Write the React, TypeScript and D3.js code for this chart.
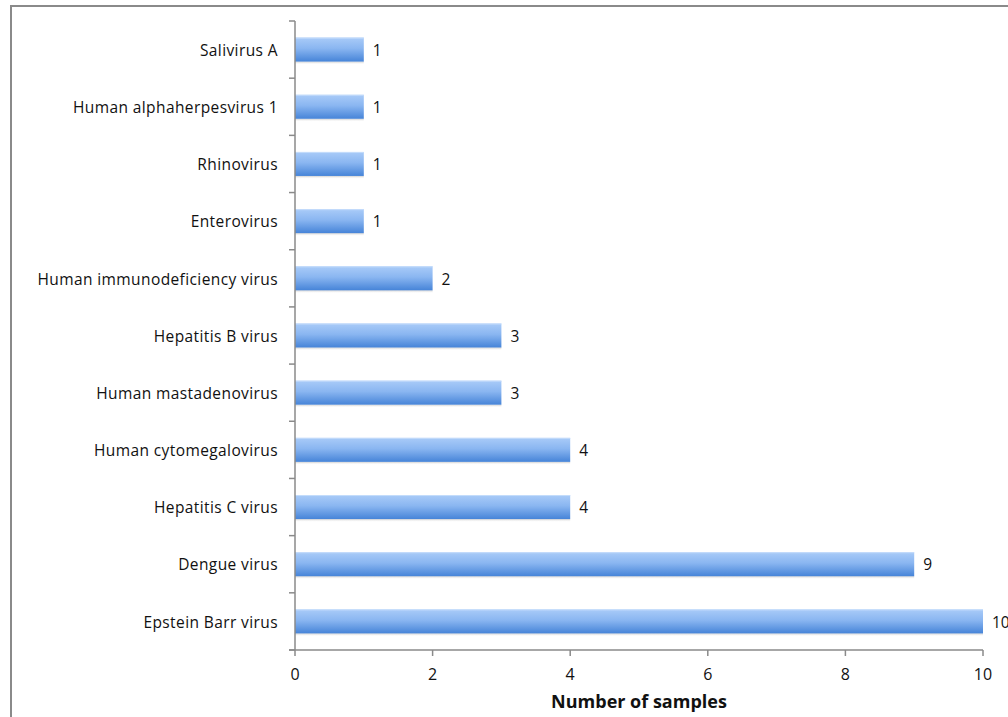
import React from "react";
import * as d3 from "d3";

const categories = [
  "Salivirus A",
  "Human alphaherpesvirus 1",
  "Rhinovirus",
  "Enterovirus",
  "Human immunodeficiency virus",
  "Hepatitis B virus",
  "Human mastadenovirus",
  "Human cytomegalovirus",
  "Hepatitis C virus",
  "Dengue virus",
  "Epstein Barr virus",
];
const sampleCounts = [1, 1, 1, 1, 2, 3, 3, 4, 4, 9, 10];
const xTicks = [0, 2, 4, 6, 8, 10];
const xTitle = "Number of samples";

const W = 1008;
const H = 717;
const left = 295;
const right = 983;
const top = 21;
const bottom = 650;
const FONT = "'Open Sans', Lato, sans-serif";

export default function App() {
  const x = d3.scaleLinear().domain([0, 10]).range([left, right]);
  const y = d3
    .scaleBand<string>()
    .domain(categories)
    .range([top, bottom])
    .paddingInner(0.58)
    .paddingOuter(0.29);
  const step = (bottom - top) / categories.length;
  const boundaries = d3.range(categories.length + 1).map((i) => top + i * step);

  return (
    <svg
      width={W}
      height={H}
      style={{ position: "absolute", left: 0, top: 0, background: "#fff" }}
    >
      <defs>
        <linearGradient id="barFill" x1="0" y1="0" x2="0" y2="1">
          <stop offset="0%" stopColor="#a9cbf8" />
          <stop offset="45%" stopColor="#8ab6f1" />
          <stop offset="100%" stopColor="#4684d8" />
        </linearGradient>
        <linearGradient id="barShadow" x1="0" y1="0" x2="0" y2="1">
          <stop offset="0%" stopColor="#b8b8b8" stopOpacity={0.7} />
          <stop offset="100%" stopColor="#ffffff" stopOpacity={0} />
        </linearGradient>
      </defs>

      {/* outer frame */}
      <rect x={11} y={6} width={W + 20} height={H + 20} fill="none" stroke="#8a8a8a" strokeWidth={2} />

      {/* bars */}
      {categories.map((c, i) => {
        const by = y(c)!;
        const bh = y.bandwidth();
        const bw = x(sampleCounts[i]) - x(0);
        return (
          <g key={c}>
            <rect x={x(0)} y={by + bh} width={bw} height={3} fill="url(#barShadow)" />
            <rect x={x(0)} y={by} width={bw} height={bh} fill="url(#barFill)" />
            <line x1={x(0)} x2={x(0) + bw} y1={by + 0.5} y2={by + 0.5} stroke="#c4dcfb" strokeWidth={1} />
            <text
              x={x(sampleCounts[i]) + 9}
              y={by + bh / 2}
              dy="0.4em"
              fontFamily={FONT}
              fontSize={15.5}
              fill="#111"
            >
              {sampleCounts[i]}
            </text>
            <text
              x={left - 17}
              y={by + bh / 2}
              dy="0.4em"
              textAnchor="end"
              fontFamily={FONT}
              fontSize={15.5}
              letterSpacing={0.4}
              fill="#111"
            >
              {c}
            </text>
          </g>
        );
      })}

      {/* y axis */}
      <line x1={left} x2={left} y1={top} y2={bottom} stroke="#8a8a8a" strokeWidth={1.5} />
      {boundaries.map((b, i) => (
        <line key={i} x1={left - 6} x2={left} y1={b} y2={b} stroke="#8a8a8a" strokeWidth={1.5} />
      ))}

      {/* x axis */}
      <line x1={left - 6} x2={right} y1={bottom} y2={bottom} stroke="#8a8a8a" strokeWidth={1.5} />
      {xTicks.map((t) => (
        <g key={t}>
          <line x1={x(t)} x2={x(t)} y1={bottom} y2={bottom + 6} stroke="#8a8a8a" strokeWidth={1.5} />
          <text
            x={x(t)}
            y={674}
            dy="0.35em"
            textAnchor="middle"
            fontFamily={FONT}
            fontSize={16}
            fill="#111"
          >
            {t}
          </text>
        </g>
      ))}
      <text
        x={(left + right) / 2}
        y={702}
        dy="0.35em"
        textAnchor="middle"
        fontFamily={FONT}
        fontSize={18}
        fontWeight="bold"
        fill="#111"
      >
        {xTitle}
      </text>
    </svg>
  );
}
